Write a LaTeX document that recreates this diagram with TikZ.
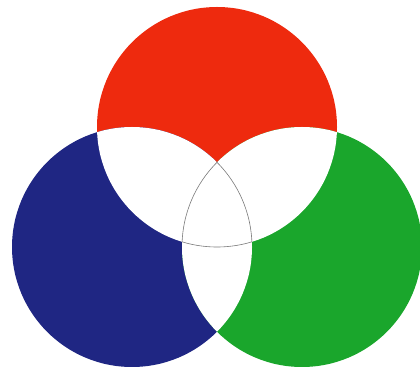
\documentclass[tikz,border=0pt]{standalone}
\usetikzlibrary{calc}
\definecolor{lampred}{HTML}{EE2A0E}
\definecolor{lampblue}{HTML}{1F2683}
\definecolor{lampgreen}{HTML}{1AA62C}
\definecolor{lampedge}{HTML}{7A7A7A}
\newcommand{\lamprad}{120pt}

\begin{document}
\begin{tikzpicture}[
        x=1pt, y=1pt,
        mix/.style={fill=white},
        rim/.style={draw=lampedge, line width=0.6pt},
      ]
      \useasboundingbox (0,0) rectangle (420,369);

      \coordinate (r) at (217,242);
      \coordinate (b) at (132,122);
      \coordinate (g) at (302,122);

      \fill[lampred]   (r) circle (\lamprad);
      \fill[lampblue]  (b) circle (\lamprad);
      \fill[lampgreen] (g) circle (\lamprad);

      % overlaps go white
      \begin{scope}
        \clip (r) circle (\lamprad);
        \fill[mix] (b) circle (\lamprad);
        \fill[mix] (g) circle (\lamprad);
      \end{scope}
      \begin{scope}
        \clip (b) circle (\lamprad);
        \fill[mix] (g) circle (\lamprad);
      \end{scope}

      % thin outline of the centre
      \begin{scope}
        \clip (r) circle (\lamprad);
        \clip (b) circle (\lamprad);
        \draw[rim] (g) circle (\lamprad);
      \end{scope}
      \begin{scope}
        \clip (r) circle (\lamprad);
        \clip (g) circle (\lamprad);
        \draw[rim] (b) circle (\lamprad);
      \end{scope}
      \begin{scope}
        \clip (b) circle (\lamprad);
        \clip (g) circle (\lamprad);
        \draw[rim] (r) circle (\lamprad);
      \end{scope}
    \end{tikzpicture}
\end{document}
